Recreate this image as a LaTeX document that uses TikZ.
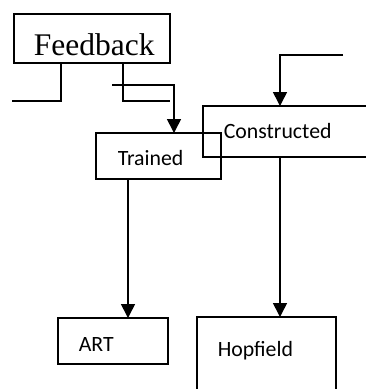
\documentclass[tikz,border=0pt]{standalone}
\usepackage{fontspec}
\setmainfont{Liberation Serif}
\newfontfamily\calib{Carlito}
\usetikzlibrary{arrows.meta}
\begin{document}
\begin{tikzpicture}[x=1pt,y=-1pt,line width=1.6pt,
  box/.style={draw,line width=1.6pt,inner sep=0pt,outer sep=0pt,anchor=north west},
  lbl/.style={inner sep=0pt,anchor=base west,font=\calib\fontsize{21.8}{24}\selectfont},
  arr/.style={-{Triangle[width=14pt,length=14pt]}}]
\useasboundingbox (0,0) rectangle (366,389);
\clip (0,0) rectangle (366,389);
% boxes
\node[box,minimum width=156pt,minimum height=49pt] (fb) at (14,14) {};
\node[box,minimum width=125pt,minimum height=46pt] (tr) at (96,133) {};
\node[box,minimum width=180pt,minimum height=51pt] (con) at (203,106) {};
\node[box,minimum width=110pt,minimum height=46pt] (art) at (58,318) {};
\node[box,minimum width=139pt,minimum height=90pt] (hop) at (197,317) {};
% labels
\node[inner sep=0pt,anchor=base west,font=\fontsize{31.5}{34}\selectfont] (fbt) at (33,55) {Feedback};
\node[lbl] (trt) at (117,165) {Trained};
\node[lbl] (cont) at (223,138) {Constructed};
\node[lbl] (artt) at (78,351) {ART};
\node[lbl] (hopt) at (217,356) {Hopfield};
% coordinates
\coordinate (fl) at (12,101);
\coordinate (fr) at (170,101);
\coordinate (a1) at (61,101);
\coordinate (a2) at (123,101);
\coordinate (s1) at (112,85);
\coordinate (b1) at (174,85);
\coordinate (s2) at (343,55);
\coordinate (b2) at (280,55);
\coordinate (b3) at (128,0);
% connectors
\draw (a1 |- fb.south) -- (a1) -- (fl);
\draw (a2 |- fb.south) -- (a2) -- (fr);
\draw[arr] (s1) -- (b1) -- (b1 |- tr.north);
\draw[arr] (s2) -- (b2) -- (b2 |- con.north);
\draw[arr] (con.south -| b2) -- (hop.north -| b2);
\draw[arr] (tr.south -| b3) -- (art.north -| b3);
\end{tikzpicture}
\end{document}
